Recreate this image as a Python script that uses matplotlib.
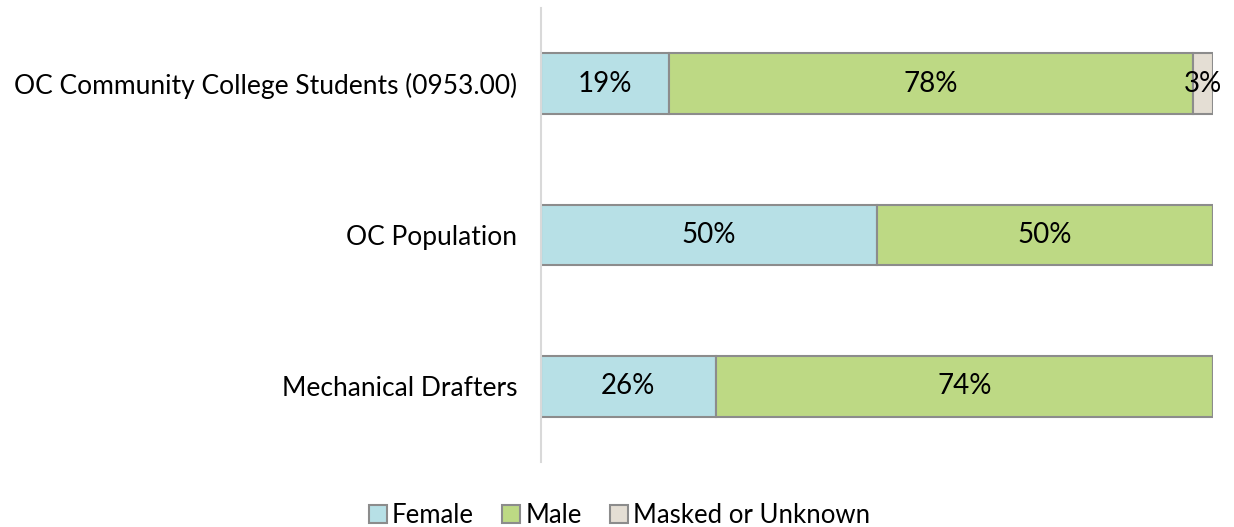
import matplotlib.pyplot as plt
import numpy as np

# categories top to bottom
categories = ["OC Community College Students (0953.00)", "OC Population", "Mechanical Drafters"]
female = [19, 50, 26]
male = [78, 50, 74]
masked = [3, 0, 0]

series = [("Female", female, "#B7E0E6"),
          ("Male", male, "#BDD984"),
          ("Masked or Unknown", masked, "#E4DED4")]

plt.rcParams['font.family'] = ['Lato', 'DejaVu Sans']

fig = plt.figure(figsize=(12.34, 5.27), dpi=100)
ax = fig.add_axes([0.4384, 0.1233, 0.5446, 0.8615])

y = np.arange(len(categories))[::-1]
left = np.zeros(len(categories))
handles = []
for name, vals, col in series:
    vals = np.array(vals, dtype=float)
    h = ax.barh(y, vals, left=left, height=0.4, color=col, edgecolor="#8C8C8C",
                linewidth=1.5, label=name)
    handles.append(h)
    for yi, v, l in zip(y, vals, left):
        if v > 0:
            ax.text(l + v / 2, yi, "%d%%" % v, ha="center", va="center", fontsize=20, color="black")
    left += vals

ax.set_xlim(0, 100)
ax.set_ylim(-0.5, 2.5)
ax.set_yticks(y)
ax.set_yticklabels(categories, fontsize=19)
ax.tick_params(axis="y", length=0, pad=17)
ax.set_xticks([])
for s in ["top", "right", "bottom"]:
    ax.spines[s].set_visible(False)
ax.spines["left"].set_color("#D9D9D9")
ax.spines["left"].set_linewidth(1.5)

fig.legend(handles=handles, loc="lower center", bbox_to_anchor=(0.502, -0.045), ncol=3,
           frameon=False, fontsize=18.5, handlelength=0.7, handleheight=0.7,
           handletextpad=0.2, columnspacing=1.1)

fig.savefig("out.png", dpi=100)
